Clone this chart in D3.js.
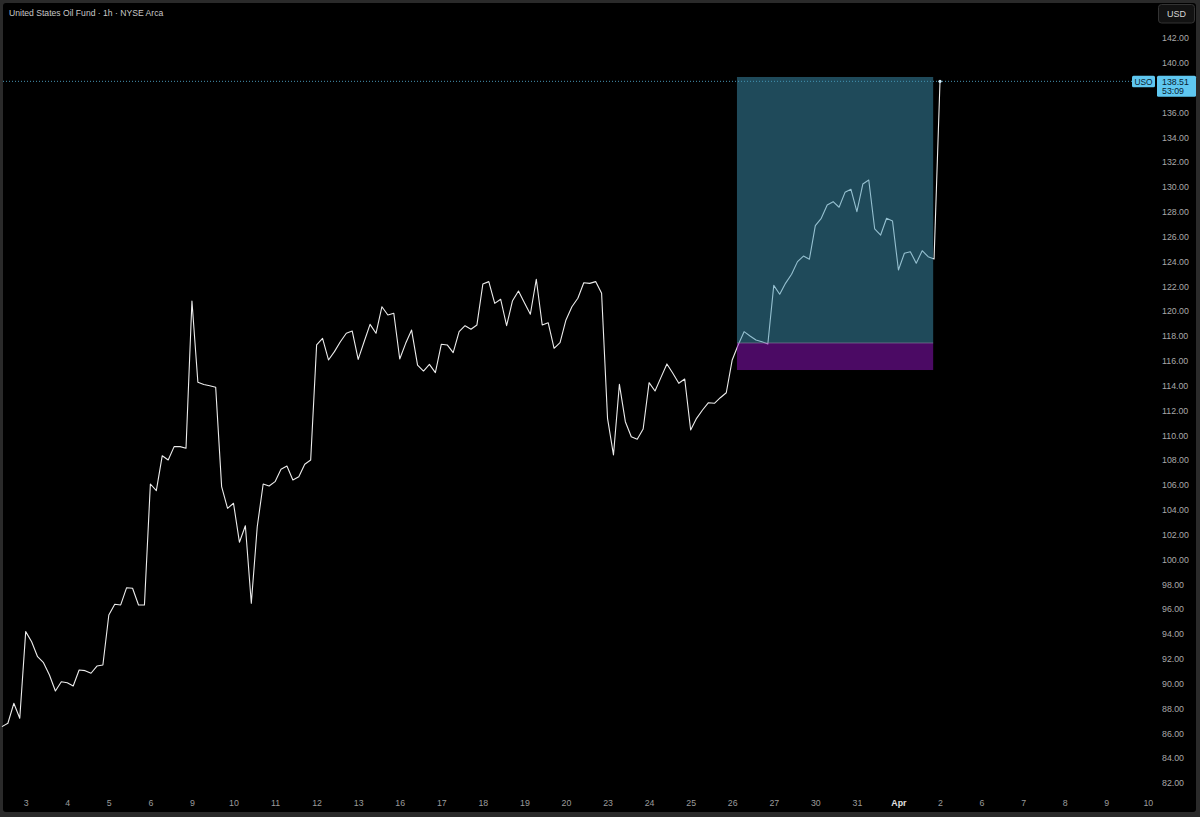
<!DOCTYPE html>
<html><head><meta charset="utf-8">
<script src="https://cdn.jsdelivr.net/npm/d3@7"></script>
<style>
html,body{margin:0;padding:0;background:#2a2a2a;}
svg{display:block;}
</style></head>
<body>
<svg id="c" width="1200" height="817"></svg>
<script>
// ---- data ----
const title = "United States Oil Fund · 1h · NYSE Arca";
const dayLabels = ["3","4","5","6","9","10","11","12","13","16","17","18","19","20","23","24","25","26","27","30","31","Apr","2","6","7","8","9","10"];
const barsPerDay = 7;
const firstDayBar = 4; // bar index of the first bar of the day labelled "3"
const prices = [
 86.54,86.81,88.42,87.21,
 94.19,93.38,92.17,91.69,90.70,89.41,90.16,
 90.08,89.81,91.10,91.05,90.84,91.42,91.50,
 95.53,96.39,96.34,97.73,97.68,96.34,96.34,
 106.08,105.54,108.36,108.01,109.09,109.09,108.96,
 120.82,114.27,114.10,114.00,113.87,105.87,104.12,
 104.53,101.39,102.72,96.47,102.64,106.08,105.92,
 106.27,107.27,107.53,106.40,106.67,107.67,108.01,
 117.28,117.81,116.07,116.74,117.54,118.22,118.40,
 116.12,117.54,118.94,118.22,120.36,119.69,119.83,
 116.15,117.41,118.48,115.66,115.18,115.72,115.05,
 117.33,117.28,116.66,118.35,118.83,118.54,118.89,
 122.19,122.38,120.63,120.96,118.83,120.84,121.62,
 120.68,119.75,122.57,118.89,119.07,117.01,117.46,
 119.29,120.36,121.04,122.29,122.24,122.38,121.44,
 111.37,108.42,114.11,111.10,109.89,109.68,110.51,
 114.24,113.57,114.67,115.75,115.00,114.19,114.54,
 110.43,111.37,112.04,112.63,112.58,113.03,113.43,
 116.07,117.28,118.35,118.00,117.68,117.54,117.36,
 122.08,121.36,122.26,122.97,123.99,124.44,124.18,
 126.89,127.48,128.55,128.82,128.37,129.57,129.81,
 128.01,130.24,130.56,126.62,126.13,127.48,127.26,
 123.32,124.66,124.79,123.86,124.87,124.39,124.20,
 138.51
];
const yTicks = [82,84,86,88,90,92,94,96,98,100,102,104,106,108,110,112,114,116,118,120,122,124,126,128,130,132,134,136,140,142]; // 138 hidden by price label
const lastPrice = 138.51;
const countdown = "53:09";
const symbol = "USO";
const currency = "USD";
// long position tool (bar indexes / prices)
const posStartBar = 123.8, posEndBar = 156.85;
const posTarget = 138.86, posEntry = 117.44, posStop = 115.26;

// ---- scales ----
const lastDayBar = firstDayBar + (dayLabels.length - 1) * barsPerDay;
const x = d3.scaleLinear().domain([firstDayBar, lastDayBar]).range([25.7, 1147.8]);
const y = d3.scaleLinear().domain([82, 142]).range([783, 38]);

const svg = d3.select("#c");
const font = "'Liberation Sans', Arial, sans-serif";

svg.append("rect").attr("width",1200).attr("height",817).attr("fill","#2a2a2a");
svg.append("rect").attr("x",3).attr("y",3).attr("width",1193).attr("height",809).attr("rx",3).attr("fill","#000");

// title
svg.append("text").attr("x",9).attr("y",16).attr("fill","#c8c8c8")
  .attr("font-family",font).attr("font-size",8.6).text(title);

// USD button
svg.append("rect").attr("x",1158.5).attr("y",4.5).attr("width",36).attr("height",18.5).attr("rx",3)
  .attr("fill","#121212").attr("stroke","#333");
svg.append("text").attr("x",1176.5).attr("y",17).attr("text-anchor","middle").attr("fill","#d6d6d6")
  .attr("font-family",font).attr("font-size",9).text(currency);

// last price dotted line
svg.append("line").attr("x1",3).attr("x2",1132).attr("y1",y(lastPrice)).attr("y2",y(lastPrice))
  .attr("stroke","#5fc7f0").attr("stroke-opacity",0.75).attr("stroke-width",1).attr("stroke-dasharray","1,2");

// price line
const line = d3.line().x((d,i)=>x(i)).y(d=>y(d));
svg.append("path").datum(prices).attr("d",line).attr("fill","none")
  .attr("stroke","#ececec").attr("stroke-width",1.1).attr("stroke-linejoin","round");

// position tool over the line
svg.append("rect").attr("x",x(posStartBar)).attr("width",x(posEndBar)-x(posStartBar))
  .attr("y",y(posTarget)).attr("height",y(posEntry)-y(posTarget))
  .attr("fill","#3e93b4").attr("fill-opacity",0.5);
svg.append("rect").attr("x",x(posStartBar)).attr("width",x(posEndBar)-x(posStartBar))
  .attr("y",y(posEntry)).attr("height",y(posStop)-y(posEntry))
  .attr("fill","#9614c8").attr("fill-opacity",0.5);
svg.append("line").attr("x1",x(posStartBar)).attr("x2",x(posEndBar)).attr("y1",y(posEntry)).attr("y2",y(posEntry))
  .attr("stroke","#8a8aa0").attr("stroke-opacity",0.6).attr("stroke-width",1);

// last point marker
svg.append("circle").attr("cx",x(prices.length-1)).attr("cy",y(lastPrice)).attr("r",1.6).attr("fill","#cfefff");

// right axis
const yAxis = d3.axisRight(y).tickValues(yTicks).tickFormat(d=>d.toFixed(2)).tickSize(0).tickPadding(0);
const ga = svg.append("g").attr("transform","translate(1162,0)").call(yAxis);
ga.select(".domain").remove();
ga.selectAll("text").attr("fill","#a9a9a9").attr("font-family",font).attr("font-size",8.8);

// bottom axis
const dayTicks = dayLabels.map((d,i)=>firstDayBar + i*barsPerDay);
const xAxis = d3.axisBottom(x).tickValues(dayTicks).tickFormat((d,i)=>dayLabels[i]).tickSize(0).tickPadding(0);
const gx = svg.append("g").attr("transform","translate(0,799.5)").call(xAxis);
gx.select(".domain").remove();
gx.selectAll("text").attr("fill","#9c9c9c").attr("font-family",font).attr("font-size",8.8)
  .filter(d=>dayLabels[dayTicks.indexOf(d)]==="Apr").attr("font-weight","bold").attr("fill","#e0e0e0");

// symbol + price labels
const yl = y(lastPrice);
svg.append("rect").attr("x",1132).attr("y",yl-5.5).attr("width",23).attr("height",11.5).attr("rx",1.5).attr("fill","#5fc7f0");
svg.append("text").attr("x",1143.5).attr("y",yl+3.2).attr("text-anchor","middle").attr("fill","#0a2230")
  .attr("font-family",font).attr("font-size",8.4).text(symbol);
svg.append("rect").attr("x",1157).attr("y",yl-5.5).attr("width",39).attr("height",21).attr("rx",1.5).attr("fill","#5fc7f0");
const pt = svg.append("text").attr("fill","#0a2230").attr("font-family",font).attr("font-size",8.8);
pt.append("tspan").attr("x",1162).attr("y",yl+3.2).text(lastPrice.toFixed(2));
pt.append("tspan").attr("x",1162).attr("y",yl+12.6).text(countdown);
</script>
</body></html>
